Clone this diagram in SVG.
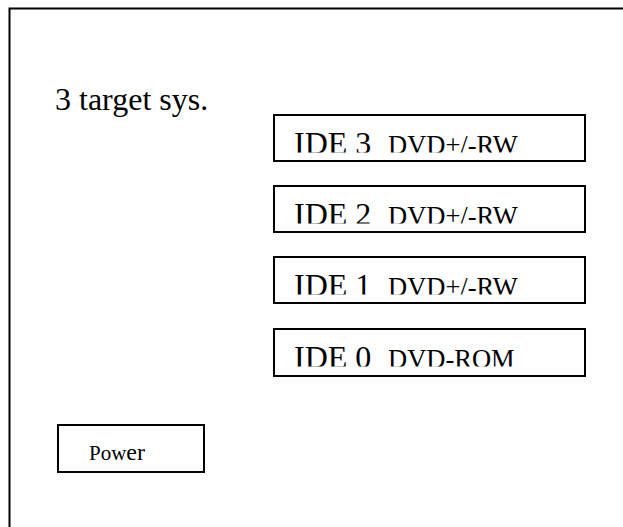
<svg xmlns="http://www.w3.org/2000/svg" width="623" height="527" viewBox="0 0 623 527">
<style>
.box{fill:#fff;stroke:#000;stroke-width:2}
.t{font-family:"Liberation Serif","Times New Roman",serif;fill:#000}
.ide{font-size:32px}
.dvd{font-size:26.5px}
</style>
<defs>
<clipPath id="c3"><rect x="275" y="116" width="309" height="36.5"/></clipPath>
<clipPath id="c2"><rect x="275" y="187" width="309" height="36.5"/></clipPath>
<clipPath id="c1"><rect x="275" y="258" width="309" height="36.5"/></clipPath>
<clipPath id="c0"><rect x="275" y="330" width="309" height="36.5"/></clipPath>
</defs>
<rect width="623" height="527" fill="#fff"/>
<g id="frame">
<path d="M9.5 527 V8.5 H623" fill="none" stroke="#000" stroke-width="2"/>
</g>
<g id="label">
<text class="t" x="55" y="110" font-size="32">3 target sys.</text>
</g>
<g id="ide3">
<rect class="box" x="274" y="115" width="311" height="46"/>
<g clip-path="url(#c3)"><text class="t ide" x="294" y="153.7">IDE 3</text><text class="t dvd" x="388" y="154">DVD+/-RW</text></g>
</g>
<g id="ide2">
<rect class="box" x="274" y="186" width="311" height="46"/>
<g clip-path="url(#c2)"><text class="t ide" x="294" y="224.7">IDE 2</text><text class="t dvd" x="388" y="225">DVD+/-RW</text></g>
</g>
<g id="ide1">
<rect class="box" x="274" y="257" width="311" height="46"/>
<g clip-path="url(#c1)"><text class="t ide" x="294" y="295.7">IDE 1</text><text class="t dvd" x="388" y="296">DVD+/-RW</text></g>
</g>
<g id="ide0">
<rect class="box" x="274" y="329" width="311" height="47"/>
<g clip-path="url(#c0)"><text class="t ide" x="294" y="367.7">IDE 0</text><text class="t dvd" x="388" y="368">DVD-ROM</text></g>
</g>
<g id="power">
<rect class="box" x="58" y="425" width="146" height="47"/>
<text class="t" x="89" y="460" font-size="21">Pow<tspan font-size="24">er</tspan></text>
</g>
<g id="connectors"/>
</svg>
